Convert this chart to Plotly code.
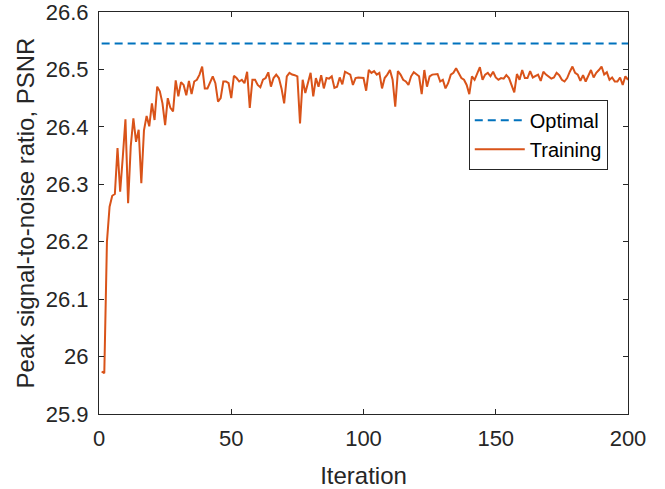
import plotly.graph_objects as go

iterations = list(range(1, 201))
training_psnr = [
    25.974, 25.971, 26.200, 26.261, 26.280, 26.283, 26.363, 26.287, 26.348, 26.413,
    26.267, 26.366, 26.415, 26.374, 26.395, 26.302, 26.394, 26.419, 26.401, 26.441,
    26.412, 26.470, 26.462, 26.441, 26.403, 26.450, 26.433, 26.427, 26.481, 26.453,
    26.478, 26.473, 26.455, 26.480, 26.457, 26.479, 26.482, 26.491, 26.505, 26.467,
    26.467, 26.478, 26.488, 26.476, 26.444, 26.450, 26.479, 26.479, 26.476, 26.450,
    26.489, 26.485, 26.479, 26.482, 26.476, 26.496, 26.433, 26.482, 26.482, 26.473,
    26.469, 26.482, 26.485, 26.495, 26.470, 26.485, 26.491, 26.485, 26.467, 26.441,
    26.488, 26.494, 26.491, 26.490, 26.488, 26.406, 26.482, 26.459, 26.479, 26.494,
    26.453, 26.485, 26.470, 26.490, 26.467, 26.485, 26.484, 26.488, 26.468, 26.470,
    26.486, 26.474, 26.496, 26.494, 26.491, 26.473, 26.485, 26.486, 26.485, 26.485,
    26.463, 26.499, 26.494, 26.497, 26.491, 26.494, 26.467, 26.485, 26.491, 26.499,
    26.482, 26.435, 26.497, 26.491, 26.482, 26.479, 26.473, 26.488, 26.495, 26.491,
    26.488, 26.457, 26.499, 26.470, 26.488, 26.491, 26.491, 26.492, 26.479, 26.482,
    26.467, 26.476, 26.491, 26.494, 26.502, 26.494, 26.485, 26.482, 26.473, 26.457,
    26.488, 26.482, 26.494, 26.504, 26.482, 26.491, 26.494, 26.488, 26.496, 26.486,
    26.482, 26.485, 26.484, 26.490, 26.485, 26.473, 26.460, 26.492, 26.482, 26.499,
    26.485, 26.485, 26.497, 26.486, 26.488, 26.491, 26.480, 26.496, 26.491, 26.488,
    26.484, 26.486, 26.494, 26.490, 26.482, 26.479, 26.485, 26.496, 26.505, 26.494,
    26.491, 26.480, 26.490, 26.479, 26.488, 26.499, 26.486, 26.494, 26.499, 26.505,
    26.491, 26.495, 26.482, 26.486, 26.479, 26.479, 26.486, 26.473, 26.488, 26.482,
]
optimal_x = [1, 200]
optimal_psnr = [26.545, 26.545]

x_ticks = [0, 50, 100, 150, 200]
y_ticks = [25.9, 26.0, 26.1, 26.2, 26.3, 26.4, 26.5, 26.6]
y_tick_labels = ["25.9", "26", "26.1", "26.2", "26.3", "26.4", "26.5", "26.6"]

FONT = "Liberation Sans, Arial, Helvetica, sans-serif"
TXT = "#262626"

fig = go.Figure()
fig.add_trace(go.Scatter(
    x=optimal_x, y=optimal_psnr, mode="lines", name="Optimal",
    line=dict(color="#0072BD", width=2, dash="8px,5px"),
))
fig.add_trace(go.Scatter(
    x=iterations, y=training_psnr, mode="lines", name="Training",
    line=dict(color="#D95319", width=2),
))

axis_common = dict(
    showgrid=False, zeroline=False, showline=True, linecolor=TXT, linewidth=1,
    mirror="ticks", ticks="inside", ticklen=5, tickcolor=TXT, tickwidth=1,
    tickfont=dict(family=FONT, size=22, color=TXT), automargin=False,
    ticklabeloverflow="allow",
)

fig.update_layout(
    width=665, height=489,
    margin=dict(l=99, r=37, t=12, b=75),
    paper_bgcolor="white", plot_bgcolor="white",
    font=dict(family=FONT, color=TXT),
    xaxis=dict(
        range=[0, 200], tickvals=x_ticks, ticklabelstandoff=5,
        title=dict(text="Iteration", font=dict(family=FONT, size=24, color=TXT), standoff=16),
        **axis_common,
    ),
    yaxis=dict(
        range=[25.9, 26.6], tickvals=y_ticks, ticktext=y_tick_labels,
        ticklabelstandoff=5,
        title=dict(text="Peak signal-to-noise ratio, PSNR", font=dict(family=FONT, size=24, color=TXT), standoff=4),
        **axis_common,
    ),
    legend=dict(
        x=0.699, y=0.7815, xanchor="left", yanchor="top",
        bgcolor="white", bordercolor=TXT, borderwidth=1,
        font=dict(family=FONT, size=20, color="black"),
        tracegroupgap=0, itemwidth=50,
    ),
    showlegend=True,
)

fig.write_html(
    "out.html",
    config={"displayModeBar": False},
    post_script="document.body.style.margin='0';",
)
